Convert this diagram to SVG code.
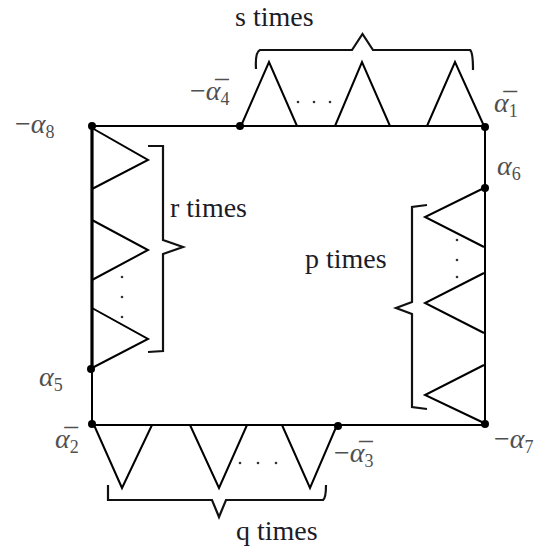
<svg xmlns="http://www.w3.org/2000/svg" width="553" height="550" viewBox="0 0 553 550">
<style>
.ln{fill:none;stroke:#000;stroke-width:2;stroke-linejoin:miter}
.br{fill:none;stroke:#111;stroke-width:2.2}
.dot{fill:#000}
.sd{fill:#333}
.lab{font-size:28px;fill:#505050}
.al{font-style:italic}
.sub{font-size:18px;font-style:normal}
.tm{font-size:28px;fill:#1c1c28}
</style>
<rect width="553" height="550" fill="#fff"/>
<g id="frame">
<line class="ln" x1="92" y1="126" x2="485" y2="126"/>
<line class="ln" x1="485" y1="126" x2="485" y2="425"/>
<line class="ln" x1="92" y1="425" x2="485" y2="425"/>
<line class="ln" x1="92" y1="126" x2="92" y2="425"/>
<line class="ln" x1="92" y1="126" x2="92" y2="368" style="stroke-width:3.2"/>
</g>
<g id="top-loops">
<polyline class="ln" points="241,126 269,62 297,126"/>
<polyline class="ln" points="335,126 362,62 390,126"/>
<polyline class="ln" points="427,126 455,62 484,126"/>
<circle class="sd" cx="298" cy="102" r="1.3"/><circle class="sd" cx="314" cy="102" r="1.3"/><circle class="sd" cx="330" cy="102" r="1.3"/>
<path class="br" d="M256,69 Q255,52 260,50 L352,50 L362.5,34 L373,50 L470,50 Q473,52 473,70"/>
<text class="tm" font-family="Liberation Serif, DejaVu Serif, serif" x="235" y="26">s times</text>
</g>
<g id="left-loops">
<polyline class="ln" points="92,128 148,160 92,189"/>
<polyline class="ln" points="92,220 148,250 92,280"/>
<polyline class="ln" points="92,308 148,339 92,368"/>
<circle class="sd" cx="122" cy="277" r="1.3"/><circle class="sd" cx="122" cy="297" r="1.3"/><circle class="sd" cx="122" cy="317" r="1.3"/>
<path class="br" d="M148,146 L163,146 L163,240 L183,247 L163,254 L163,351 L148,352"/>
<text class="tm" font-family="Liberation Serif, DejaVu Serif, serif" x="170" y="217">r times</text>
</g>
<g id="right-loops">
<polyline class="ln" points="484,188 425,217 484,247"/>
<polyline class="ln" points="484,273 425,303 484,333"/>
<polyline class="ln" points="484,365 425,395 484,423"/>
<circle class="sd" cx="457" cy="240" r="1.3"/><circle class="sd" cx="457" cy="260" r="1.3"/><circle class="sd" cx="457" cy="277" r="1.3"/>
<path class="br" d="M427,205 L412,207 L412,302 L396,308 L412,314 L412,407 L427,409"/>
<text class="tm" font-family="Liberation Serif, DejaVu Serif, serif" x="305" y="268">p times</text>
</g>
<g id="bottom-loops">
<polyline class="ln" points="94,425 122,488 152,425"/>
<polyline class="ln" points="190,425 219,488 247,425"/>
<polyline class="ln" points="282,425 310,488 337,425"/>
<circle class="sd" cx="240" cy="463" r="1.3"/><circle class="sd" cx="258" cy="463" r="1.3"/><circle class="sd" cx="276" cy="463" r="1.3"/>
<path class="br" d="M108,485 L108,500 L212,500 L219,517 L226,500 L323,500 Q326,498 326,485"/>
<text class="tm" font-family="Liberation Serif, DejaVu Serif, serif" x="236" y="540">q times</text>
</g>
<g id="vertices">
<circle class="dot" cx="92" cy="126" r="4"/>
<circle class="dot" cx="240" cy="126" r="4"/>
<circle class="dot" cx="485" cy="127" r="4"/>
<circle class="dot" cx="485" cy="188" r="4"/>
<circle class="dot" cx="485" cy="424" r="4"/>
<circle class="dot" cx="92" cy="424" r="4"/>
<circle class="dot" cx="338" cy="426" r="4"/>
<circle class="dot" cx="91" cy="369" r="4"/>
</g>
<g id="labels" font-family="Liberation Serif, DejaVu Serif, serif">
<text class="lab" x="15" y="133">−<tspan class="al">α</tspan><tspan class="sub" dy="5">8</tspan></text>
<text class="lab" x="39" y="386"><tspan class="al">α</tspan><tspan class="sub" dy="5">5</tspan></text>
<text class="lab" x="497" y="175"><tspan class="al">α</tspan><tspan class="sub" dy="5">6</tspan></text>
<text class="lab" x="494" y="448">−<tspan class="al">α</tspan><tspan class="sub" dy="5">7</tspan></text>
<text class="lab" x="190" y="100">−<tspan class="al">α̅</tspan><tspan class="sub" dy="5">4</tspan></text>
<text class="lab" x="494" y="112"><tspan class="al">α̅</tspan><tspan class="sub" dy="5">1</tspan></text>
<text class="lab" x="55" y="448"><tspan class="al">α̅</tspan><tspan class="sub" dy="5">2</tspan></text>
<text class="lab" x="334" y="462">−<tspan class="al">α̅</tspan><tspan class="sub" dy="5">3</tspan></text>
</g>
</svg>
